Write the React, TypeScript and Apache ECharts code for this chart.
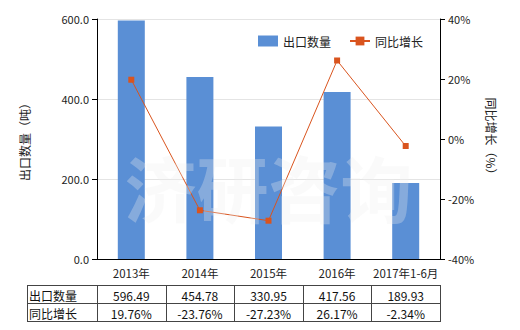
import React, { useEffect, useRef } from "react";
import * as echarts from "echarts";

const categories = ["2013年", "2014年", "2015年", "2016年", "2017年1-6月"];
const exportQty = [596.49, 454.78, 330.95, 417.56, 189.93];
const yoyGrowth = [19.76, -23.76, -27.23, 26.17, -2.34];
const seriesNames = ["出口数量", "同比增长"];
const leftAxisName = "出口数量（吨）";
const rightAxisName = "同比增长（%）";
const watermark = "济研咨询";

const FONT = "'Noto Sans CJK SC', 'Microsoft YaHei', sans-serif";
const BAR = "#5a8fd5";
const LINE = "#d9541e";

export default function App() {
  const ref = useRef<HTMLDivElement>(null);
  useEffect(() => {
    if (!ref.current) return;
    const chart = echarts.init(ref.current, null, { renderer: "svg" });
    const grid = { left: 97, right: 80, top: 19, bottom: 71 };
    chart.setOption({
      animation: false,
      textStyle: { fontFamily: FONT },
      grid,
      legend: {
        top: 30,
        left: 253,
        itemWidth: 20,
        itemHeight: 11,
        itemGap: 18,
        textStyle: { fontSize: 12, color: "#222", fontFamily: FONT },
        data: [
          { name: seriesNames[0], icon: "rect" },
          { name: seriesNames[1] },
        ],
      },
      xAxis: {
        type: "category",
        data: categories,
        axisLine: { lineStyle: { color: "#000" } },
        axisTick: { alignWithLabel: true, length: 5, lineStyle: { color: "#000" } },
        axisLabel: { color: "#222", fontSize: 11.5, margin: 8, interval: 0 },
      },
      yAxis: [
        {
          type: "value",
          min: 0,
          max: 600,
          interval: 200,
          name: leftAxisName,
          nameLocation: "middle",
          nameGap: 67,
          nameRotate: 90,
          nameTextStyle: { fontSize: 12, color: "#222" },
          axisLine: { show: true, lineStyle: { color: "#000" } },
          axisTick: { show: true, length: 5, lineStyle: { color: "#000" } },
          axisLabel: {
            color: "#222",
            fontSize: 11,
            formatter: (v: number) => v.toFixed(1),
          },
          splitLine: { lineStyle: { color: "#e4e4e4" } },
        },
        {
          type: "value",
          min: -40,
          max: 40,
          interval: 20,
          name: rightAxisName,
          nameLocation: "middle",
          nameGap: 45,
          nameRotate: -90,
          nameTextStyle: { fontSize: 12, color: "#222" },
          axisLine: { show: true, lineStyle: { color: "#000" } },
          axisTick: { show: true, length: 5, lineStyle: { color: "#000" } },
          axisLabel: { color: "#222", fontSize: 11, formatter: "{value}%" },
          splitLine: { show: false },
        },
      ],
      series: [
        {
          name: seriesNames[0],
          type: "bar",
          data: exportQty,
          barWidth: 27,
          itemStyle: { color: BAR },
          z: 1,
        },
        {
          name: seriesNames[1],
          type: "line",
          yAxisIndex: 1,
          data: yoyGrowth,
          symbol: "rect",
          symbolSize: 6,
          lineStyle: { color: LINE, width: 1 },
          itemStyle: { color: LINE },
          z: 3,
        },
      ],
    });

    const width = 520;
    const plotLeft = grid.left;
    const plotRight = width - grid.right;
    const tableLeft = 27;
    const rowTops = [285, 303, 321];
    const centers = categories.map((c) => chart.convertToPixel({ xAxisIndex: 0 }, c) as number);
    const colW = (plotRight - plotLeft) / categories.length;
    const elements: any[] = [];
    const lineStyle = { stroke: "#444", lineWidth: 1 };
    rowTops.forEach((y) => {
      elements.push({ type: "line", shape: { x1: tableLeft, y1: y + 0.5, x2: plotRight, y2: y + 0.5 }, style: lineStyle });
    });
    const xs = [tableLeft, plotLeft, ...categories.map((_, i) => plotLeft + colW * (i + 1))];
    xs.forEach((x) => {
      elements.push({ type: "line", shape: { x1: Math.round(x) + 0.5, y1: rowTops[0], x2: Math.round(x) + 0.5, y2: rowTops[2] + 1 }, style: lineStyle });
    });
    const rows = [
      { label: seriesNames[0], values: exportQty.map((v) => v.toFixed(2)) },
      { label: seriesNames[1], values: yoyGrowth.map((v) => v.toFixed(2) + "%") },
    ];
    rows.forEach((r, ri) => {
      const cy = (rowTops[ri] + rowTops[ri + 1]) / 2 + 1;
      elements.push({
        type: "text",
        x: tableLeft + 2,
        y: cy,
        style: { text: r.label, fill: "#111", font: `12px ${FONT}`, textAlign: "left", textVerticalAlign: "middle" },
      });
      r.values.forEach((v, i) => {
        elements.push({
          type: "text",
          x: centers[i],
          y: cy,
          style: { text: v, fill: "#111", font: `12px ${FONT}`, textAlign: "center", textVerticalAlign: "middle" },
        });
      });
    });
    elements.push({
      type: "text",
      x: (plotLeft + plotRight) / 2,
      y: 185,
      z: 10,
      style: {
        text: watermark,
        fill: "rgba(240,240,240,0.3)",
        font: `bold 72px ${FONT}`,
        textAlign: "center",
        textVerticalAlign: "middle",
      },
    });
    chart.setOption({ graphic: { elements } });

    return () => chart.dispose();
  }, []);
  return <div ref={ref} style={{ width: 520, height: 330, margin: -8 }} />;
}
